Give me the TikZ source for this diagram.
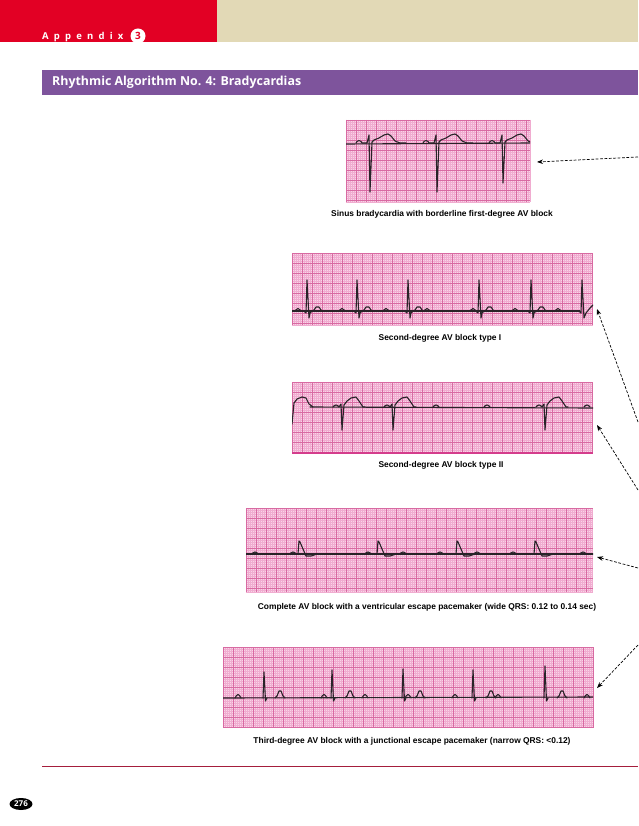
\documentclass[tikz,border=0pt]{standalone}
\usepackage{fontspec}
\setmainfont{Liberation Sans}
\newfontfamily\hdrfont{Open Sans}
\usetikzlibrary{arrows.meta,shapes.geometric}
\definecolor{hdrred}{RGB}{226,0,36}
\definecolor{hdrbeige}{RGB}{226,217,182}
\definecolor{hdrpurple}{RGB}{126,84,156}
\definecolor{ecgbg}{RGB}{249,212,231}
\definecolor{ecgminor}{RGB}{240,172,208}
\definecolor{ecgmajor}{RGB}{216,106,162}
\definecolor{ecgedge}{RGB}{212,60,140}
\definecolor{rulered}{RGB}{165,30,60}
\definecolor{tracecol}{RGB}{40,35,40}
\tikzset{
 trace/.style={draw=tracecol, line width=1.1pt, line join=round, line cap=round},
 strip/.style={fill=ecgbg, draw=none, inner sep=0pt, outer sep=0pt, anchor=north west},
 caption/.style={font=\bfseries\fontsize{8.4}{9}\selectfont, inner sep=0pt},
 ptr/.style={draw=black, line width=0.7pt, dash pattern=on 2.8pt off 1.6pt, -{Stealth[length=6pt,width=4.5pt]}},
 minorline/.style={draw=ecgminor, line width=0.3pt},
 majorline/.style={draw=ecgmajor, line width=0.6pt},
}
\newcommand\ecggrid[4]{%
 \pgfmathtruncatemacro\gxa{#1+2}%
 \pgfmathtruncatemacro\gya{#2+2}%
 \pgfmathtruncatemacro\gxb{#1+10}%
 \pgfmathtruncatemacro\gyb{#2+10}%
 \foreach \gx in {#1,\gxa,...,#3} \draw[minorline] (\gx,#2) -- (\gx,#4);
 \foreach \gy in {#2,\gya,...,#4} \draw[minorline] (#1,\gy) -- (#3,\gy);
 \foreach \gx in {#1,\gxb,...,#3} \draw[majorline] (\gx,#2) -- (\gx,#4);
 \foreach \gy in {#2,\gyb,...,#4} \draw[majorline] (#1,\gy) -- (#3,\gy);
}
\begin{document}
\begin{tikzpicture}[x=1pt,y=-1pt]
\useasboundingbox (0,0) rectangle (638,826);
\fill[white] (0,0) rectangle (638,826);
% header
\fill[hdrred] (0,0) rectangle (217,42);
\fill[hdrbeige] (217,0) rectangle (638,42);
\node[anchor=base west, text=white, inner sep=0pt, font=\hdrfont\bfseries\fontsize{9.5}{10}\selectfont] (app) at (42,39.5)
 {A\kern5.2pt p\kern5.2pt p\kern5.2pt e\kern5.2pt n\kern5.2pt d\kern5.2pt i\kern5.2pt x};
\node[circle, fill=white, minimum size=15pt, inner sep=0pt, text=hdrred, font=\hdrfont\bfseries\fontsize{10}{10}\selectfont] (num) at (138,36) {3};
\fill[hdrpurple] (42,70) rectangle (638,95);
\node[anchor=west, text=white, inner sep=0pt, font=\hdrfont\bfseries\fontsize{12.4}{13}\selectfont] (title) at (52,82.5) {Rhythmic Algorithm No. 4: Bradycardias};

% strips
\node[strip, minimum width=184pt, minimum height=82pt] (s1) at (346,120) {};
\ecggrid{346}{120}{530}{202}
\node[strip, minimum width=301pt, minimum height=72pt] (s2) at (292,253) {};
\ecggrid{292}{253}{593}{325}
\node[strip, minimum width=301pt, minimum height=71pt] (s3) at (292,382) {};
\ecggrid{292}{382}{593}{453}
\draw[ecgedge, line width=1.6pt] (s3.south west) -- (s3.south east);
\node[strip, minimum width=347pt, minimum height=84pt] (s4) at (246,508) {};
\ecggrid{246}{508}{593}{592}
\node[strip, minimum width=370pt, minimum height=81pt] (s5) at (223,647) {};
\ecggrid{223}{647}{593}{728}

% trace 1
\begin{scope}
\clip (346,120) rectangle (530,202);
\draw[trace] (346,144) -- (530,143);
\foreach \bx/\d in {370/192,437/192,503/183}
 \draw[trace,shift={(\bx,0)}] (-14,143) -- (-13,141.5) -- (-11,140.5) -- (-9,141.5) -- (-8,143) -- (-3,143) -- (-1,135) -- (0,\d) -- (2,142) -- (4,140) -- (9,138) -- (14,135) -- (18,134) -- (21,136) -- (25,141) -- (30,143) -- (36,143);
\end{scope}

% trace 2
\begin{scope}
\clip (292,253) rectangle (593,325);
\draw[trace] (292,311) -- (580,311);
\foreach \bx in {307,357,408,479,531}
 \draw[trace,shift={(\bx,0)}] (-3,311) -- (-1,313) -- (0,280) -- (2,318) -- (3,313) -- (5,311) -- (7,310) -- (9,307) -- (12,307) -- (14,310) -- (16,311);
\draw[trace] (579,311) -- (581,313) -- (582,280) -- (584,318) -- (586,313) -- (590,308) -- (593,305);
\foreach \px in {298,342,386,427,473,515,558}
 \draw[trace,shift={(\px,0)}] (-3,311) -- (-1.5,309.5) -- (0,308.5) -- (1.5,309.5) -- (3,311);
\end{scope}

% trace 3
\begin{scope}
\clip (292,382) rectangle (593,453);
\draw[trace] (310,407) -- (593,408);
\draw[trace] (292,424) -- (294,403) -- (297,399) -- (302,397) -- (306,398) -- (309,404) -- (313,407);
\foreach \bx in {342,393,545}
 \draw[trace,shift={(\bx,0)}] (-9,407) -- (-7.5,405.5) -- (-6,405) -- (-4.5,405.5) -- (-3,407) -- (-1,404) -- (0,430) -- (2,405) -- (5,401) -- (9,398) -- (14,397) -- (17,401) -- (21,407) -- (23,407);
\foreach \px in {436,487,587}
 \draw[trace,shift={(\px,0)}] (-3,407) -- (-1.5,405.5) -- (0,405) -- (1.5,405.5) -- (3,407);
\end{scope}

% trace 4
\begin{scope}
\clip (246,508) rectangle (593,592);
\draw[trace] (246,554) -- (593,554);
\foreach \bx in {299,378,457,535}
 \draw[trace,shift={(\bx,0)}] (-2,554) -- (-1,554) -- (0,541) -- (1,542) -- (4,549) -- (7,556) -- (12,556) -- (18,554);
\foreach \px in {255,293,368,403,440,477,513,583}
 \draw[trace,shift={(\px,0)}] (-3,554) -- (-1.5,552.5) -- (0,552) -- (1.5,552.5) -- (3,554);
\end{scope}

% trace 5
\begin{scope}
\clip (223,647) rectangle (593,728);
\draw[trace] (223,698) -- (593,697);
\foreach \bx/\h in {264/672,332/670,403/669,473/670,545/666}
 \draw[trace,shift={(\bx,0)}] (-1,698) -- (0,\h) -- (1.5,701) -- (3,698);
\foreach \tx in {280,350,420,491,562}
 \draw[trace,shift={(\tx,0)}] (-5,698) -- (-3,696) -- (-1,691) -- (1,691) -- (3,696) -- (5,698);
\foreach \px in {238,324,365,408,455,498,587}
 \draw[trace,shift={(\px,0)}] (-3,698) -- (-1.5,695.5) -- (0,694.5) -- (1.5,695.5) -- (3,698);
\end{scope}

% captions
\node[caption] (c1) at (442,214) {Sinus bradycardia with borderline first-degree AV block};
\node[caption] (c2) at (440,338.5) {Second-degree AV block type I};
\node[caption] (c3) at (441,465.5) {Second-degree AV block type II};
\node[caption] (c4) at (427,607) {Complete AV block with a ventricular escape pacemaker (wide QRS: 0.12 to 0.14 sec)};
\node[caption] (c5) at (412,741.5) {Third-degree AV block with a junctional escape pacemaker (narrow QRS: <0.12)};

% pointers
\coordinate (e1) at (638,157); \coordinate (t1) at (537,162);
\coordinate (e2) at (638,422); \coordinate (t2) at (597,309);
\coordinate (e3) at (638,490); \coordinate (t3) at (597,425);
\coordinate (e4) at (638,568); \coordinate (t4) at (597,557);
\coordinate (e5) at (638,645); \coordinate (t5) at (597,688);
\foreach \i in {1,...,5} \draw[ptr] (e\i) -- (t\i);

% footer
\draw[rulered, line width=0.8pt] (42,766) -- (638,766);
\node[ellipse, fill=black, text=white, minimum width=23pt, minimum height=12pt, inner sep=0pt, font=\hdrfont\bfseries\fontsize{8}{8}\selectfont] (pg) at (21,804) {276};
\end{tikzpicture}
\end{document}
